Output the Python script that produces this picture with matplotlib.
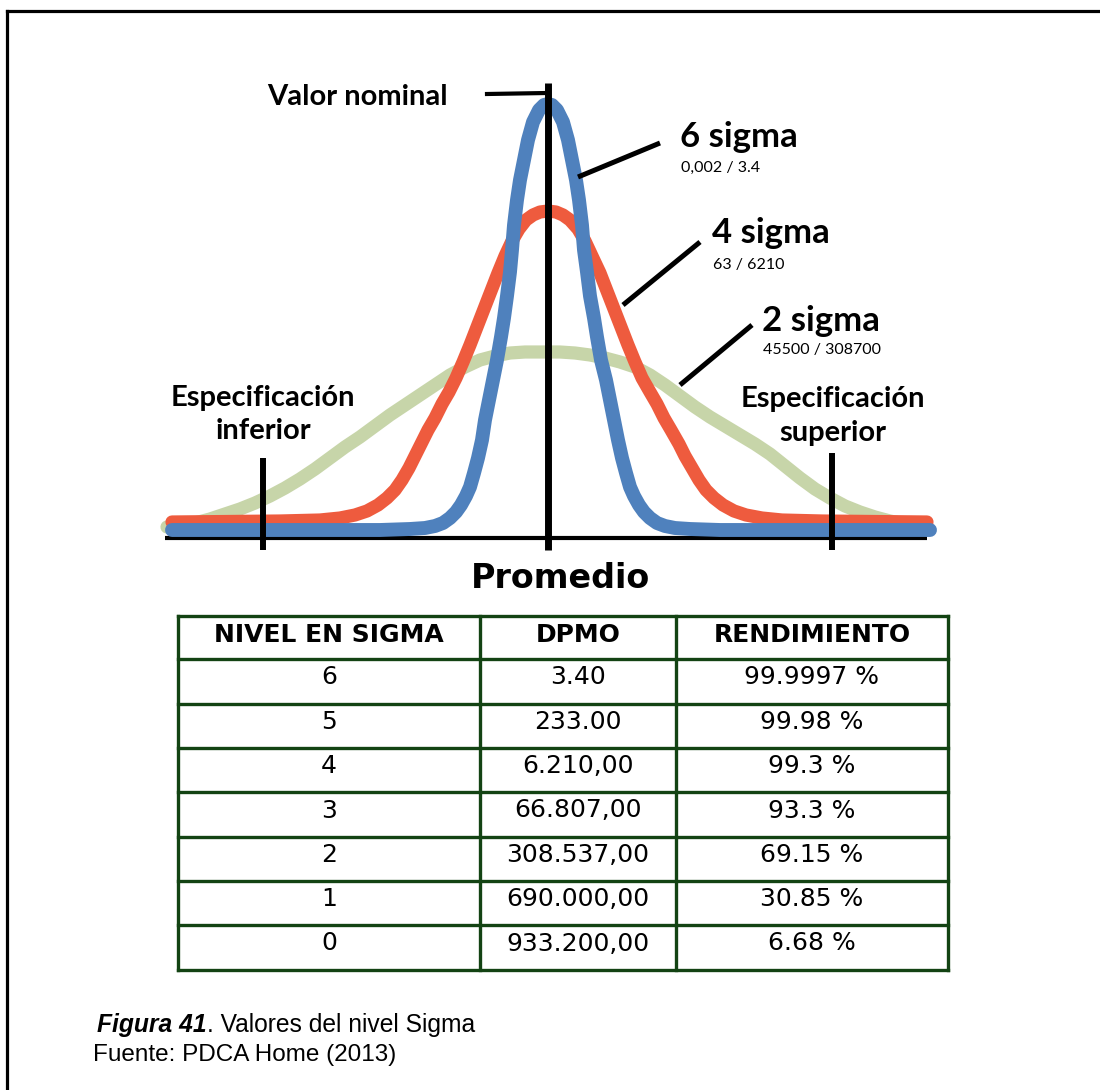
import matplotlib
matplotlib.use("Agg")
import matplotlib.pyplot as plt

# ---------------- data ----------------
# curve samples (arbitrary chart units:
# x = offset from the nominal value, y = height above the base line)
blue_x = [-376, -168, -138, -123, -113, -105, -98, -92, -87, -82, -78, -74, -70, -66, -63, -59, -55, -51,
          -47, -44, -41, -38, -36, -34, -31, -28, -24, -20, -15, -9, -4, 0,
          4, 9, 15, 20, 24, 28, 31, 34, 36, 39, 42, 46, 49, 53, 58, 62, 66, 70, 74, 78, 82, 86, 91, 96,
          102, 109, 117, 127, 142, 172, 382]
blue_y = [0, 0, 1, 2, 4, 7, 12, 18, 25, 34, 43, 57, 72, 90, 110, 130, 150, 170,
          193, 212, 234, 258, 280, 305, 330, 350, 370, 390, 408, 420, 425, 426,
          425, 420, 408, 390, 370, 350, 330, 305, 280, 258, 234, 212, 193, 170, 150, 130, 110, 90, 72, 57,
          43, 34, 25, 18, 12, 7, 4, 2, 1, 0, 0]

red_x = [-376, -268, -228, -208, -193, -181, -170, -161, -153, -146, -139, -133, -127, -120, -113, -106,
         -99, -92, -85, -78, -71, -64, -57, -50, -43, -36, -29, -22, -15, -8, 0,
         8, 15, 22, 30, 37, 44, 52, 59, 66, 73, 80, 87, 94, 102, 109, 116, 123, 131, 137, 144, 151, 158,
         166, 175, 186, 198, 214, 234, 274, 379]
red_y = [8, 9, 10, 12, 15, 19, 25, 32, 40, 50, 62, 74, 86, 100, 112, 126,
         138, 152, 168, 185, 203, 221, 239, 257, 274, 289, 301, 310, 315, 318, 319,
         318, 315, 310, 301, 289, 274, 257, 239, 221, 203, 185, 168, 152, 138, 126, 112, 100, 86, 74, 62,
         50, 40, 32, 25, 19, 15, 12, 10, 9, 8]

green_x = [-381, -368, -353, -338, -323, -308, -293, -278, -263, -248, -233, -218, -203, -188, -173, -158,
           -143, -128, -113, -98, -83, -68, -53, -38, -23, -8, 1,
           12, 27, 42, 57, 72, 87, 102, 117, 132, 147, 162, 177, 192, 207, 222, 237, 252, 267, 282, 297,
           312, 327, 342, 357, 379]
green_y = [3, 4, 7, 11, 16, 21, 27, 34, 42, 51, 61, 72, 83, 93, 104, 115,
           125, 135, 145, 155, 163, 170, 174, 177, 178, 178, 178,
           178, 177, 175, 172, 168, 163, 155, 145, 134, 123, 113, 104, 95, 86, 76, 64, 52, 41, 32, 24,
           18, 13, 9, 6, 4]

spec_limits = [-285, 284]
nominal = 0

sigma_labels = ["6 sigma", "4 sigma", "2 sigma"]
sigma_sub = ["0,002 / 3.4", "63 / 6210", "45500 / 308700"]

headers = ["NIVEL EN SIGMA", "DPMO", "RENDIMIENTO"]
levels = ["6", "5", "4", "3", "2", "1", "0"]
dpmo = ["3.40", "233.00", "6.210,00", "66.807,00", "308.537,00", "690.000,00", "933.200,00"]
rendimiento = ["99.9997 %", "99.98 %", "99.3 %", "93.3 %", "69.15 %", "30.85 %", "6.68 %"]

# ---------------- figure ----------------
W, H = 1100, 1090
fig = plt.figure(figsize=(W / 100, H / 100), dpi=100)
fig.patch.set_facecolor("white")

# overlay axes in pixel coordinates (text, pointers, table, frame)
ov = fig.add_axes([0, 0, 1, 1])
ov.set_xlim(0, W)
ov.set_ylim(H, 0)
ov.axis("off")
ov.set_zorder(3)
ov.patch.set_visible(False)

# chart axes
left_px, right_px, top_px, bot_px = 150, 950, 80, 560
ax = fig.add_axes([left_px / W, (H - bot_px) / H, (right_px - left_px) / W, (bot_px - top_px) / H])
ax.set_xlim(-398, 402)
ax.set_ylim(-30, 450)
ax.axis("off")
ax.set_zorder(1)
ax.patch.set_visible(False)

GREEN = "#c7d5a9"
RED = "#ee5b3e"
BLUE = "#4f81bd"

ax.plot([-383, 379], [-8, -8], color="black", lw=3.0, zorder=1, solid_capstyle="butt")
ax.plot(green_x, green_y, color=GREEN, lw=9.5, solid_capstyle="round", solid_joinstyle="round", zorder=2)
ax.plot(red_x, red_y, color=RED, lw=9.5, solid_capstyle="round", solid_joinstyle="round", zorder=3)
ax.plot(blue_x, blue_y, color=BLUE, lw=10.0, solid_capstyle="round", solid_joinstyle="round", zorder=4)
ax.plot([nominal, nominal], [-20, 447], color="black", lw=5.0, zorder=5, solid_capstyle="butt")
ax.plot([spec_limits[0]] * 2, [-20, 72], color="black", lw=4.3, zorder=5, solid_capstyle="butt")
ax.plot([spec_limits[1]] * 2, [-20, 77], color="black", lw=4.3, zorder=5, solid_capstyle="butt")

# ---------------- frame ----------------
ov.plot([7, W], [11, 11], color="black", lw=2.3, solid_capstyle="projecting")
ov.plot([7, 7], [11, H], color="black", lw=2.3, solid_capstyle="projecting")

# ---------------- chart annotations ----------------
LBL = dict(family=["Lato", "DejaVu Sans"], fontweight="bold", color="black")
ov.plot([487, 547], [94, 93], color="black", lw=3.0)
ov.text(448, 97, "Valor nominal", ha="right", va="center", fontsize=21, **LBL)

pointers = [((578, 177), (660, 143)), ((623, 305), (700, 242)), ((680, 385), (752, 325))]
label_pos = [(680, 137, 168), (712, 233, 265), (762, 321, 350)]
for (p0, p1), (lx, ly, sy), lab, sub in zip(pointers, label_pos, sigma_labels, sigma_sub):
    ov.plot([p0[0], p1[0]], [p0[1], p1[1]], color="black", lw=3.6, solid_capstyle="butt")
    ov.text(lx, ly, lab, ha="left", va="center", fontsize=25, **LBL)
    ov.text(lx + 1, sy, sub, ha="left", va="center", fontsize=11.5,
            family=["Lato", "DejaVu Sans"], color="black")

ov.text(263, 398, "Especificación", ha="center", va="center", fontsize=21, **LBL)
ov.text(263, 431, "inferior", ha="center", va="center", fontsize=21, **LBL)
ov.text(833, 399, "Especificación", ha="center", va="center", fontsize=21, **LBL)
ov.text(833, 433, "superior", ha="center", va="center", fontsize=21, **LBL)

ov.text(560, 578, "Promedio", ha="center", va="center", fontsize=24,
        family="DejaVu Sans", fontweight="bold", color="black")

# ---------------- table ----------------
TG = "#134313"
col_x = [178, 480, 676, 948]
row_y = [616, 659, 704, 748, 792, 837, 881, 925, 970]
for xx in col_x:
    ov.plot([xx, xx], [row_y[0], row_y[-1]], color=TG, lw=2.4, solid_capstyle="projecting")
for yy in row_y:
    ov.plot([col_x[0], col_x[-1]], [yy, yy], color=TG, lw=2.4, solid_capstyle="projecting")

col_c = [(col_x[i] + col_x[i + 1]) / 2 for i in range(3)]
for c, h in zip(col_c, headers):
    ov.text(c, (row_y[0] + row_y[1]) / 2 - 3, h, ha="center", va="center", fontsize=18,
            family="DejaVu Sans", fontweight="bold", color="black")
for i, row in enumerate(zip(levels, dpmo, rendimiento)):
    yc = (row_y[i + 1] + row_y[i + 2]) / 2 - 4
    for c, val in zip(col_c, row):
        ov.text(c, yc, val, ha="center", va="center", fontsize=18,
                family="DejaVu Sans", color="black")

# ---------------- caption ----------------
cap1 = ov.text(97, 1025, "Figura 41", ha="left", va="center", fontsize=17.7,
               family="Liberation Sans", fontweight="bold", fontstyle="italic", color="black")
fig.canvas.draw()
bb = cap1.get_window_extent(renderer=fig.canvas.get_renderer())
ov.text(bb.x1, 1025, ". Valores del nivel Sigma", ha="left", va="center", fontsize=17.7,
        family="Liberation Sans", color="black")
ov.text(93, 1055, "Fuente: PDCA Home (2013)", ha="left", va="center", fontsize=17.5,
        family="Liberation Sans", color="black")

fig.savefig("out.png", dpi=100, facecolor="white")
